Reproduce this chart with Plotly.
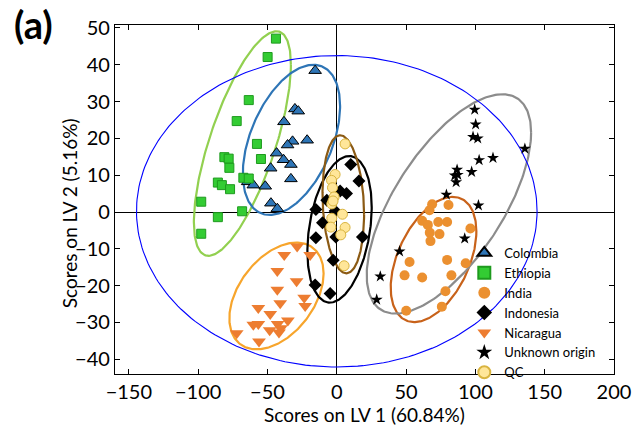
import numpy as np
import plotly.graph_objects as go

# ---------------- data (scores on LV1, LV2) ----------------
colombia_x = [-15.6, -30.2, -27.8, -38.1, -31.9, -35.5, -21.4, -43.4, -38.4, -33.1, -47.7, -33.1, -64.3, -60.2, -51.6, -47.5, -42.9]
colombia_y = [38.4, 28.0, 27.4, 24.5, 19.2, 18.2, 19.5, 16.0, 14.2, 12.9, 11.9, 9.0, 8.2, 7.3, 7.0, 2.4, 0.9]

ethiopia_x = [-43.9, -49.9, -63.5, -72.2, -57.6, -81.1, -78.0, -54.7, -77.5, -67.4, -63.5, -85.8, -82.9, -77.0, -97.8, -85.8, -68.3, -97.8]
ethiopia_y = [47.1, 42.1, 30.4, 24.7, 18.5, 14.9, 14.5, 14.4, 12.0, 9.3, 9.1, 8.0, 7.3, 6.2, 2.8, -1.4, 0.2, -5.9]

india_x = [68.8, 80.6, 66.9, 61.6, 65.7, 73.2, 79.6, 96.4, 67.1, 74.1, 67.6, 52.5, 79.6, 93.0, 48.9, 61.6, 82.7, 78.4, 75.8, 50.1]
india_y = [2.1, 1.9, 0.5, -2.4, -3.5, -2.7, -2.7, -4.5, -5.6, -6.0, -7.9, -13.6, -13.0, -13.9, -17.2, -17.8, -17.2, -21.5, -25.7, -26.8]

indonesia_x = [10.1, 16.0, 2.4, 7.0, -7.2, -15.1, -1.2, -10.3, -15.1, -0.7, 18.5, -2.6, -15.6, -4.8]
indonesia_y = [12.9, 8.4, 5.7, 5.0, 3.2, 0.7, 0.3, -2.9, -7.0, -6.8, -6.8, -13.1, -19.8, -22.1]

nicaragua_x = [-28.6, -37.9, -19.2, -42.9, -29.0, -42.9, -23.5, -40.8, -22.8, -56.6, -48.0, -35.3, -60.2, -56.6, -42.7, -40.3, -48.4, -41.7, -72.2, -56.1]
nicaragua_y = [-9.4, -11.7, -11.7, -16.0, -18.8, -21.1, -23.3, -24.8, -25.5, -26.1, -27.7, -29.5, -30.6, -30.4, -30.4, -31.6, -32.1, -32.7, -32.9, -35.2]

unknown_x = [99.5, 100.2, 98.3, 101.7, 135.7, 102.7, 112.7, 86.8, 97.3, 85.1, 87.3, 86.1, 79.1, 102.2, 92.3, 45.3, 31.4, 28.8]
unknown_y = [27.8, 23.8, 20.4, 20.0, 17.2, 14.1, 14.7, 11.5, 10.9, 9.9, 10.1, 8.1, 4.7, 1.8, -7.2, -10.7, -17.5, -23.8]

qc_x = [6.0, -1.2, -3.8, -3.1, -1.9, -3.6, -2.7, 4.1, -3.6, -4.3, 6.0, 2.9, 5.3]
qc_y = [18.5, 10.2, 8.6, 6.6, 4.1, 2.2, 3.0, -0.6, -1.7, -4.1, -4.2, -6.2, -14.6]

# confidence ellipses: centre, half-extent in x / y, correlation
ell_names = ["Ethiopia", "Colombia", "Nicaragua", "Indonesia", "QC", "India", "Unknown", "T2"]
ell_cx = [-68.1, -32.7, -43.5, 2.0, 4.7, 69.8, 80.9, 0.0]
ell_cy = [18.6, 19.6, -22.8, -4.7, 2.1, -12.9, 2.2, 0.2]
ell_sx = [35.0, 35.1, 34.0, 23.2, 15.0, 30.9, 59.3, 144.5]
ell_sy = [30.5, 20.4, 14.5, 19.9, 18.75, 17.0, 29.8, 42.3]
ell_r = [0.70, 0.45, 0.42, 0.30, -0.15, 0.45, 0.65, 0.0]
ell_color = ["#92D050", "#2E75B6", "#F7A52C", "#000000", "#8B5A14", "#C8621A", "#8C8C8C", "#0000FF"]
ell_width = [2.2, 2.2, 2.2, 2.2, 2.2, 2.2, 2.2, 1.1]

x_ticks = [-150, -100, -50, 0, 50, 100, 150, 200]
y_ticks = [-40, -30, -20, -10, 0, 10, 20, 30, 40, 50]

FONT = "Lato"

fig = go.Figure()

t = np.linspace(0, 2 * np.pi, 241)
for i in range(len(ell_names)):
    ex = ell_cx[i] + ell_sx[i] * np.cos(t)
    ey = ell_cy[i] + ell_sy[i] * (ell_r[i] * np.cos(t) + np.sqrt(1 - ell_r[i] ** 2) * np.sin(t))
    fig.add_trace(go.Scatter(x=ex, y=ey, mode="lines", showlegend=False, hoverinfo="skip",
                             line=dict(color=ell_color[i], width=ell_width[i])))

series = [
    ("Colombia", colombia_x, colombia_y, dict(symbol="triangle-up", size=11, color="#2E75B6", line=dict(color="#000000", width=1))),
    ("Ethiopia", ethiopia_x, ethiopia_y, dict(symbol="square", size=9, color="#33CC33", line=dict(color="#1E9A1E", width=1))),
    ("India", india_x, india_y, dict(symbol="circle", size=10, color="#EB9030", line=dict(color="#EB9030", width=0))),
    ("Indonesia", indonesia_x, indonesia_y, dict(symbol="diamond", size=10, color="#000000", line=dict(color="#000000", width=0))),
    ("Nicaragua", nicaragua_x, nicaragua_y, dict(symbol="triangle-down", size=12, color="#ED7D31", line=dict(color="#ED7D31", width=0))),
    ("Unknown origin", unknown_x, unknown_y, dict(symbol="star", size=9, color="#000000", line=dict(color="#000000", width=0))),
    ("QC", qc_x, qc_y, dict(symbol="circle", size=10, color="#FFE699", line=dict(color="#D9B440", width=1))),
]
for name, xs, ys, mk in series:
    fig.add_trace(go.Scatter(x=xs, y=ys, mode="markers", name=name, marker=mk))

axis_common = dict(
    showgrid=False, ticks="inside", ticklen=5, tickwidth=1, tickcolor="black",
    showline=True, linecolor="black", linewidth=1.2, mirror="ticks",
    zeroline=True, zerolinecolor="black", zerolinewidth=1.3,
    tickfont=dict(family=FONT, size=20, color="black"),
)
fig.update_xaxes(range=[-160, 200], tickvals=x_ticks, **axis_common,
                 title=dict(text="Scores on LV 1 (60.84%)", font=dict(family=FONT, size=19, color="black"), standoff=0))
fig.update_yaxes(range=[-44, 50.8], tickvals=y_ticks, **axis_common)

fig.add_annotation(text="Scores on LV 2 (5.16%)", xref="paper", yref="paper", x=-0.092, y=0.461,
                   xanchor="center", yanchor="middle", textangle=-90, showarrow=False,
                   font=dict(family=FONT, size=19, color="black"))

fig.add_annotation(text="<b>(a)</b>", xref="paper", yref="paper", x=-0.207, y=1.075,
                   xanchor="left", yanchor="top", showarrow=False,
                   font=dict(family=FONT, size=38, color="black"))

fig.update_layout(
    width=642, height=430,
    margin=dict(l=115, r=28, t=25, b=56),
    paper_bgcolor="white", plot_bgcolor="white",
    font=dict(family=FONT, color="black"),
    legend=dict(x=0.70, y=0.39, xanchor="left", yanchor="top", bgcolor="rgba(0,0,0,0)",
                font=dict(family=FONT, size=13, color="black"), tracegroupgap=0,
                itemsizing="constant"),
)

fig.write_html("out.html")
